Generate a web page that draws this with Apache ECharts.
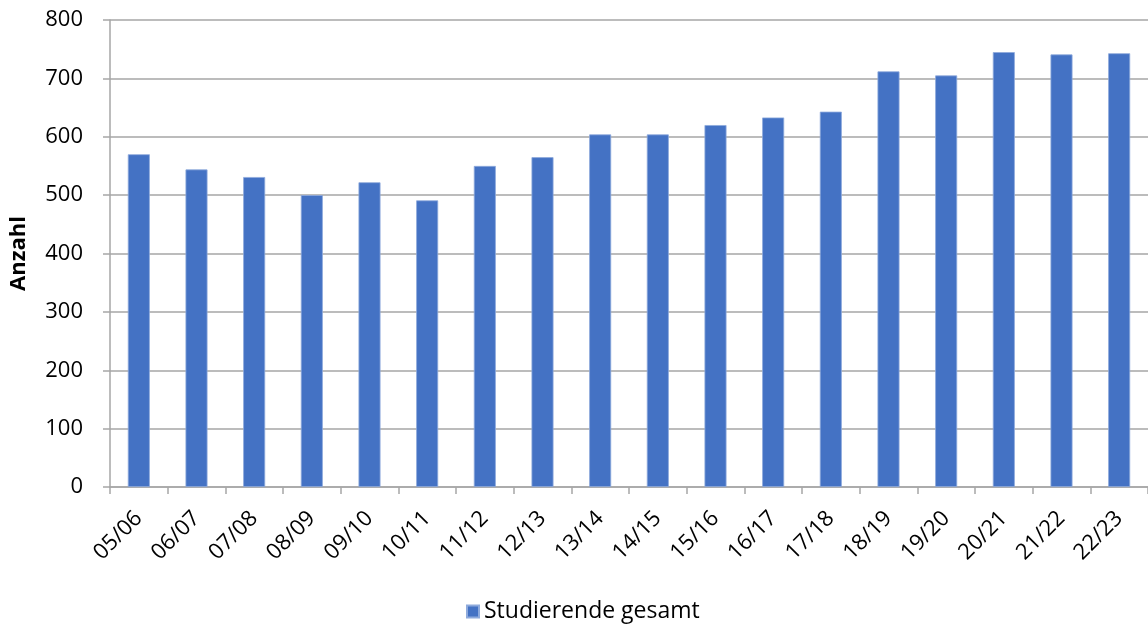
<!DOCTYPE html>
<html>
<head>
<meta charset="utf-8">
<script src="https://cdn.jsdelivr.net/npm/echarts@6/dist/echarts.min.js"></script>
<style>
  html, body { margin: 0; padding: 0; background: #fff; }
  #chart { width: 1148px; height: 628px; }
</style>
</head>
<body>
<div id="chart"></div>
<script>
const semesters = ['05/06', '06/07', '07/08', '08/09', '09/10', '10/11', '11/12', '12/13', '13/14',
  '14/15', '15/16', '16/17', '17/18', '18/19', '19/20', '20/21', '21/22', '22/23'];
const studierende = [570, 544, 531, 500, 522, 491, 550, 565, 604, 604, 620, 633, 643, 712, 705, 745, 741, 743];
const yTicks = { min: 0, max: 800, interval: 100 };

const font = '"Open Sans", "Noto Sans", sans-serif';
const chart = echarts.init(document.getElementById('chart'));
chart.setOption({
  animation: false,
  textStyle: { fontFamily: font },
  grid: { left: 110, right: 0, top: 20, bottom: 141, containLabel: false, outerBoundsMode: 'none' },
  legend: {
    bottom: 0,
    left: 461,
    icon: 'rect',
    itemWidth: 12,
    itemHeight: 12,
    itemGap: 9,
    textStyle: { fontSize: 23, color: '#000', fontFamily: font },
    data: ['Studierende gesamt'],
  },
  xAxis: {
    type: 'category',
    data: semesters,
    axisLine: { lineStyle: { color: '#a6a6a6', width: 1.5 } },
    axisTick: { show: true, alignWithLabel: false, length: 7, lineStyle: { color: '#a6a6a6', width: 1.5 } },
    axisLabel: { rotate: 45, fontSize: 22, color: '#000', margin: 28, interval: 0, fontFamily: font },
  },
  yAxis: {
    type: 'value',
    min: yTicks.min,
    max: yTicks.max,
    interval: yTicks.interval,
    name: 'Anzahl',
    nameLocation: 'middle',
    nameGap: 80,
    nameTextStyle: { fontSize: 22, fontWeight: 'bold', color: '#000', fontFamily: font },
    axisLine: { show: true, lineStyle: { color: '#a6a6a6', width: 1.5 } },
    axisTick: { show: true, length: 7, lineStyle: { color: '#a6a6a6', width: 1.5 } },
    axisLabel: { fontSize: 22, color: '#000', margin: 27, fontFamily: font },
    splitLine: { lineStyle: { color: '#a6a6a6', width: 1.5 } },
  },
  series: [{
    name: 'Studierende gesamt',
    type: 'bar',
    data: studierende,
    barWidth: 22,
    itemStyle: { color: '#4472c4', borderColor: '#8eaadc', borderWidth: 0.8 },
  }],
});
</script>
</body>
</html>
